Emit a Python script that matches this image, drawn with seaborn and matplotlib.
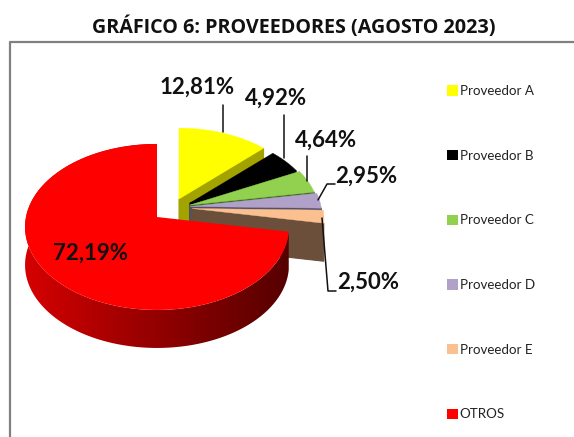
import numpy as np
import matplotlib
matplotlib.use("Agg")
import matplotlib.pyplot as plt
from matplotlib.colors import LinearSegmentedColormap
from matplotlib.patches import Patch, Polygon
import seaborn as sns

title = "GRÁFICO 6: PROVEEDORES (AGOSTO 2023)"
proveedores = ["Proveedor A", "Proveedor B", "Proveedor C", "Proveedor D", "Proveedor E", "OTROS"]
shares = [12.81, 4.92, 4.64, 2.95, 2.50, 72.19]

colors = ["#ffff00", "#000000", "#92d050", "#b1a0c7", "#fac090", "#ff0000"]
wall_colors = ["#a3a300", "#000000", "#3f6b22", "#55506a", "#6b4f3a"]
# where each slice's tip ends up after the explode
tips = [(179, 199), (190, 203), (190, 205), (190, 206.5), (192, 208.5), (157, 217)]
radius_scale = [0.97, 0.95, 0.98, 1, 1, 1]
label_pos = [(197, 87), (276, 98), (326, 140), (366, 176), (368, 282), (90, 253)]
leaders = [
    [(223, 105), (223, 132)],
    [(284, 115), (284, 158)],
    [(307, 156), (307, 181)],
    [(318, 200), (327, 184), (335, 184)],
    [(322, 218), (328, 291), (336, 291)],
]

R = 131
SQUASH = 81.8
PERSP = 0.12
DEPTH = 38

sns.set_theme(style="white")
plt.rcParams["font.family"] = ["Lato", "DejaVu Sans"]


def rim(tip, a0, a1, scale=1, n=120):
    # points on the outer edge of the disc, with a bit of perspective
    t = np.radians(np.linspace(a0, a1, n))
    d = 1 + PERSP * np.cos(t)
    return tip[0] + scale * R * np.sin(t) / d, tip[1] - scale * SQUASH * np.cos(t) / d


fig = plt.figure(figsize=(5.74, 4.37), dpi=100)
ax = fig.add_axes([0, 0, 1, 1])

# frame
ax.plot([10, 10, 574], [437, 41.5, 41.5], color="#808080", lw=1.6, clip_on=False)

fig.text(294 / 574, 1 - 27 / 437, title, ha="center", va="center", fontsize=14.2,
         fontweight="bold", family=["Open Sans", "DejaVu Sans"], color="#111111")

edges = np.cumsum([0] + shares) / sum(shares) * 360

# small slices, back to front
for i in range(5):
    a0, a1 = edges[i], edges[i + 1]
    tip = tips[i]
    x, y = rim(tip, a0, a1, radius_scale[i])
    # cut face going down from the end edge
    ax.fill([tip[0], x[-1], x[-1], tip[0]], [tip[1], y[-1], y[-1] + DEPTH, tip[1] + DEPTH],
            color=wall_colors[i], lw=0.8, zorder=2 + i)
    ax.fill(np.r_[tip[0], x], np.r_[tip[1], y], color=colors[i], lw=0.3, zorder=2 + i)

# OTROS: outer wall with a dark gradient, then top
tip = tips[5]
x, y = rim(tip, edges[5], edges[6], n=260)
shade = LinearSegmentedColormap.from_list("wall", ["#d60000", "#a80000", "#7e0000", "#560000"])
wall = Polygon(np.c_[np.r_[x, x[::-1]], np.r_[y, y[::-1] + DEPTH]], transform=ax.transData,
               facecolor="none", edgecolor="none")
ax.add_patch(wall)
grad = ax.imshow(np.linspace(0, 1, 256)[None, :], cmap=shade, aspect="auto", zorder=10,
                 extent=(x.min(), x.max(), y.max() + DEPTH, y.min()))
grad.set_clip_path(wall)
ax.fill(np.r_[tip[0], x], np.r_[tip[1], y], color=colors[5], lw=0, zorder=11)

# leader lines and value labels
for pts in leaders:
    xs, ys = zip(*pts)
    ax.plot(xs, ys, color="#111111", lw=1.1, zorder=12)
for v, (lx, ly) in zip(shares, label_pos):
    ax.text(lx, ly, f"{v:.2f}%".replace(".", ","), ha="center", va="center", fontsize=16,
            fontweight="bold", color="#111111", zorder=13)

handles = [Patch(facecolor=c, edgecolor="none") for c in colors]
ax.legend(handles, proveedores, loc="upper left", bbox_to_anchor=(447 / 574, 1 - 85 / 437),
          frameon=False, fontsize=9.6, labelspacing=3.95, handlelength=0.82, handleheight=0.82,
          handletextpad=0.12, borderpad=0, borderaxespad=0, labelcolor="#222222")

ax.set_xlim(0, 574)
ax.set_ylim(437, 0)
ax.axis("off")

fig.savefig("out.png", dpi=100)
